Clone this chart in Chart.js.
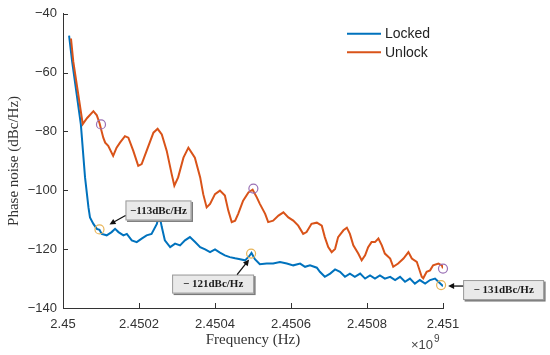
<!DOCTYPE html>
<html>
<head>
<meta charset="utf-8">
<script src="https://cdn.jsdelivr.net/npm/chart.js@4.4.1/dist/chart.umd.min.js"></script>
<style>
  html, body { margin: 0; padding: 0; background: #ffffff; }
  #wrap { width: 550px; height: 355px; }
</style>
</head>
<body>
<div id="wrap"><canvas id="c" width="550" height="355"></canvas></div>
<script>
// ---------------- data (frequency in units of 10^9 Hz, phase noise in dBc/Hz) ----------------
const unlockFreq = [
  2.450021,2.450027,2.450052,2.450063,2.450080,2.450089,2.450096,2.450106,2.450111,2.450119,
  2.450132,2.450141,2.450150,2.450163,2.450172,2.450185,2.450198,2.450207,2.450220,2.450238,
  2.450249,2.450260,2.450273,2.450286,2.450293,2.450303,2.450317,2.450330,2.450347,2.450361,
  2.450369,2.450378,2.450387,2.450400,2.450413,2.450426,2.450435,2.450444,2.450453,2.450461,
  2.450474,2.450488,2.450499,2.450510,2.450518,2.450532,2.450540,2.450553,2.450567,2.450580,
  2.450593,2.450606,2.450619,2.450632,2.450641,2.450654,2.450668,2.450681,2.450689,2.450698,
  2.450707,2.450716,2.450724,2.450738,2.450747,2.450755,2.450764,2.450777,2.450786,2.450795,
  2.450803,2.450812,2.450821,2.450830,2.450839,2.450847,2.450861,2.450869,2.450882,2.450896,
  2.450909,2.450918,2.450931,2.450944,2.450948,2.450957,2.450966,2.450974,2.450988,2.450997,
  2.451000
];
const unlockNoise = [
  -48.4,-56.2,-77.5,-75.5,-73.1,-74.5,-77.1,-82.1,-83.8,-84.9,
  -88.3,-85.5,-83.8,-81.6,-82.1,-86.6,-91.7,-91.1,-86.6,-80.4,
  -79.1,-81.0,-86.6,-94.5,-98.4,-95.6,-88.9,-85.5,-88.9,-95.6,
  -101.3,-105.8,-104.6,-101.3,-100.1,-101.8,-106.9,-110.8,-110.3,-108.0,
  -103.5,-100.7,-99.8,-102.4,-104.6,-108.0,-110.8,-110.3,-108.6,-107.5,
  -109.2,-110.3,-112.0,-114.8,-114.2,-111.4,-111.0,-112.0,-115.9,-119.3,
  -121.0,-119.9,-115.9,-113.6,-112.7,-114.8,-118.7,-121.5,-123.8,-122.1,
  -119.3,-117.6,-117.6,-116.4,-118.7,-121.5,-123.2,-126.0,-124.9,-123.2,
  -121.0,-123.2,-124.3,-129.4,-129.9,-127.7,-127.2,-125.5,-124.9,-125.5,
  -126.5
];
const lockedFreq = [
  2.450016,2.450024,2.450047,2.450058,2.450067,2.450071,2.450080,2.450089,2.450096,2.450102,
  2.450115,2.450128,2.450137,2.450146,2.450159,2.450168,2.450181,2.450194,2.450207,2.450220,
  2.450233,2.450247,2.450253,2.450260,2.450268,2.450282,2.450295,2.450308,2.450321,2.450334,
  2.450347,2.450361,2.450374,2.450387,2.450400,2.450413,2.450426,2.450439,2.450453,2.450466,
  2.450479,2.450490,2.450496,2.450505,2.450518,2.450536,2.450553,2.450571,2.450589,2.450606,
  2.450624,2.450637,2.450650,2.450668,2.450676,2.450689,2.450703,2.450716,2.450729,2.450742,
  2.450755,2.450768,2.450782,2.450795,2.450808,2.450821,2.450834,2.450847,2.450861,2.450874,
  2.450887,2.450900,2.450913,2.450926,2.450939,2.450953,2.450966,2.450979,2.450988,2.450997,
  2.451000
];
const lockedNoise = [
  -47.4,-56.2,-77.6,-95.6,-105.8,-109.2,-111.4,-113.1,-113.4,-114.8,
  -115.3,-114.2,-113.1,-114.2,-115.3,-114.8,-117.0,-117.6,-116.4,-115.3,
  -114.8,-111.4,-108.0,-112.5,-117.0,-119.3,-118.1,-118.7,-117.0,-115.9,
  -117.5,-119.3,-120.1,-121.0,-120.1,-121.2,-122.1,-122.7,-123.1,-123.4,
  -123.8,-122.4,-121.3,-123.4,-125.1,-124.9,-124.9,-124.4,-124.9,-125.5,
  -124.9,-126.0,-125.5,-126.3,-127.7,-129.4,-128.3,-126.9,-127.7,-129.4,
  -128.3,-129.4,-128.3,-130.0,-128.9,-130.0,-128.9,-130.0,-129.4,-130.5,
  -129.4,-131.1,-130.0,-131.7,-130.5,-131.7,-130.5,-130.0,-131.1,-132.2,
  -132.6
];
// circled points
const unlockMarkFreq  = [2.450100, 2.450501, 2.451000];
const unlockMarkNoise = [-77.6, -99.4, -126.6];
const lockedMarkFreq  = [2.450096, 2.450495, 2.450995];
const lockedMarkNoise = [-113.3, -121.5, -132.2];
const markLabels = ['\u2212113dBc/Hz', '\u2212 121dBc/Hz', '\u2212 131dBc/Hz'];

// axis ticks
const xTicks = [2.45, 2.4502, 2.4504, 2.4506, 2.4508, 2.451];
const xTickLabels = ['2.45', '2.4502', '2.4504', '2.4506', '2.4508', '2.451'];
const yTicks = [-140, -120, -100, -80, -60, -40];
const yTickLabels = ['\u2212140', '\u2212120', '\u2212100', '\u221280', '\u221260', '\u221240'];
const seriesNames = ['Locked', 'Unlock'];

// ---------------- styling / layout ----------------
const BLUE = '#0072BD', ORANGE = '#D95319';
const AXIS = '#333333';
const SANS = '"Liberation Sans", Arial, sans-serif';
const SERIF = '"Liberation Serif", "Times New Roman", serif';
// annotation geometry relative to locked marker pixel: box dx, dy, w, h ; arrow tail (tx,ty), tip (hx,hy)
const annoLayout = [
  {dx: 26, dy: -29, w: 66, h: 20, tx: 26, ty: -14, hx: 10, hy: -5},
  {dx: -79, dy: 21, w: 82, h: 19, tx: -14, ty: 21, hx: -2, hy: 6},
  {dx: 22, dy: -5, w: 81, h: 20, tx: 22, ty: 1, hx: 7, hy: 1}
];

const zip = (xs, ys) => xs.map((x, i) => ({x: x, y: ys[i]}));

const decor = {
  id: 'decor',
  afterDraw(chart) {
    const ctx = chart.ctx;
    const ca = chart.chartArea;
    const xs = chart.scales.x, ys = chart.scales.y;
    ctx.save();
    // inward ticks
    ctx.strokeStyle = AXIS; ctx.lineWidth = 1;
    ctx.beginPath();
    xs.ticks.forEach(t => {
      const px = Math.round(xs.getPixelForValue(t.value)) + 0.5;
      ctx.moveTo(px, ca.bottom); ctx.lineTo(px, ca.bottom - 5);
    });
    ys.ticks.forEach(t => {
      const py = Math.round(ys.getPixelForValue(t.value)) + 0.5;
      ctx.moveTo(ca.left, py); ctx.lineTo(ca.left + 5, py);
    });
    ctx.stroke();

    // x10^9 exponent
    ctx.fillStyle = '#444';
    ctx.textBaseline = 'middle';
    ctx.textAlign = 'right';
    ctx.font = '13px ' + SANS;
    ctx.fillText('\u00d710', ca.right - 10, ca.bottom + 37);
    ctx.textAlign = 'left';
    ctx.font = '10px ' + SANS;
    ctx.fillText('9', ca.right - 9, ca.bottom + 31);

    // legend
    const lx = ca.right - 96, ly = ca.top + 20;
    [[BLUE, seriesNames[0]], [ORANGE, seriesNames[1]]].forEach((it, i) => {
      const y = ly + i * 18.5;
      ctx.strokeStyle = it[0]; ctx.lineWidth = 2;
      ctx.beginPath(); ctx.moveTo(lx, y); ctx.lineTo(lx + 34, y); ctx.stroke();
      ctx.fillStyle = '#222'; ctx.font = '14px ' + SANS;
      ctx.textAlign = 'left'; ctx.textBaseline = 'middle';
      ctx.fillText(it[1], lx + 38, y + 0.5);
    });

    // annotations
    const meta = chart.getDatasetMeta(1);
    meta.data.forEach((pt, i) => {
      const L = annoLayout[i];
      const bx = pt.x + L.dx, by = pt.y + L.dy;
      // shadow
      ctx.fillStyle = '#7a7a7a';
      ctx.fillRect(bx + 1.5, by + 1.5, L.w, L.h);
      ctx.fillStyle = '#e9e9e9';
      ctx.fillRect(bx, by, L.w, L.h);
      ctx.strokeStyle = '#9a9a9a'; ctx.lineWidth = 1;
      ctx.strokeRect(bx + 0.5, by + 0.5, L.w - 1, L.h - 1);
      ctx.fillStyle = '#1a1a1a';
      ctx.font = 'bold 11px ' + SERIF;
      ctx.textAlign = 'center'; ctx.textBaseline = 'middle';
      ctx.fillText(markLabels[i], bx + L.w / 2, by + L.h / 2 + 0.5);
      // arrow
      const x1 = pt.x + L.tx, y1 = pt.y + L.ty, x2 = pt.x + L.hx, y2 = pt.y + L.hy;
      const ang = Math.atan2(y2 - y1, x2 - x1);
      ctx.strokeStyle = '#111'; ctx.lineWidth = 1.3;
      ctx.beginPath(); ctx.moveTo(x1, y1);
      ctx.lineTo(x2 - 4 * Math.cos(ang), y2 - 4 * Math.sin(ang)); ctx.stroke();
      ctx.fillStyle = '#111';
      ctx.beginPath();
      ctx.moveTo(x2, y2);
      ctx.lineTo(x2 - 6 * Math.cos(ang) + 3 * Math.sin(ang), y2 - 6 * Math.sin(ang) - 3 * Math.cos(ang));
      ctx.lineTo(x2 - 6 * Math.cos(ang) - 3 * Math.sin(ang), y2 - 6 * Math.sin(ang) + 3 * Math.cos(ang));
      ctx.closePath(); ctx.fill();
    });
    ctx.restore();
  }
};

new Chart(document.getElementById('c'), {
  type: 'line',
  data: {
    datasets: [
      {label: 'unlockMarks', data: zip(unlockMarkFreq, unlockMarkNoise), showLine: false,
       pointRadius: 4.5, pointStyle: 'circle', pointBorderColor: '#9a70b5', pointBorderWidth: 1.2,
       pointBackgroundColor: 'rgba(0,0,0,0)', borderColor: '#9a70b5', clip: false, order: 0},
      {label: 'lockedMarks', data: zip(lockedMarkFreq, lockedMarkNoise), showLine: false,
       pointRadius: 4.5, pointStyle: 'circle', pointBorderColor: '#e8b457', pointBorderWidth: 1.2,
       pointBackgroundColor: 'rgba(0,0,0,0)', borderColor: '#e8b457', clip: false, order: 0},
      {label: seriesNames[1], data: zip(unlockFreq, unlockNoise), borderColor: ORANGE,
       borderWidth: 2, pointRadius: 0, tension: 0, fill: false, order: 1},
      {label: seriesNames[0], data: zip(lockedFreq, lockedNoise), borderColor: BLUE,
       borderWidth: 2, pointRadius: 0, tension: 0, fill: false, order: 2}
    ]
  },
  options: {
    responsive: false,
    animation: false,
    devicePixelRatio: 1,
    parsing: true,
    layout: {padding: {left: 0, right: 107, top: 12, bottom: 0}},
    plugins: {legend: {display: false}, tooltip: {enabled: false}},
    scales: {
      x: {
        type: 'linear', min: 2.45, max: 2.451,
        afterBuildTicks: s => { s.ticks = xTicks.map(v => ({value: v})); },
        afterFit: s => { s.height = 47; },
        grid: {display: false, drawTicks: false, tickLength: 0},
        border: {display: true, color: AXIS, width: 1},
        ticks: {callback: (v, i) => xTickLabels[i], autoSkip: false, maxRotation: 0,
                color: '#333', padding: 9, font: {family: SANS, size: 13}},
        title: {display: true, text: 'Frequency (Hz)', color: '#333',
                font: {family: SERIF, size: 15}, padding: {top: 0, bottom: 6}}
      },
      y: {
        type: 'linear', min: -140, max: -40,
        afterBuildTicks: s => { s.ticks = yTicks.map(v => ({value: v})); },
        afterFit: s => { s.width = 63; },
        grid: {display: false, drawTicks: false, tickLength: 0},
        border: {display: true, color: AXIS, width: 1},
        ticks: {callback: (v, i) => yTickLabels[i], autoSkip: false,
                color: '#333', padding: 6, font: {family: SANS, size: 13}},
        title: {display: true, text: 'Phase noise (dBc/Hz)', color: '#333',
                font: {family: SERIF, size: 15}, padding: {top: 5, bottom: 0}}
      }
    }
  },
  plugins: [decor]
});
</script>
</body>
</html>
